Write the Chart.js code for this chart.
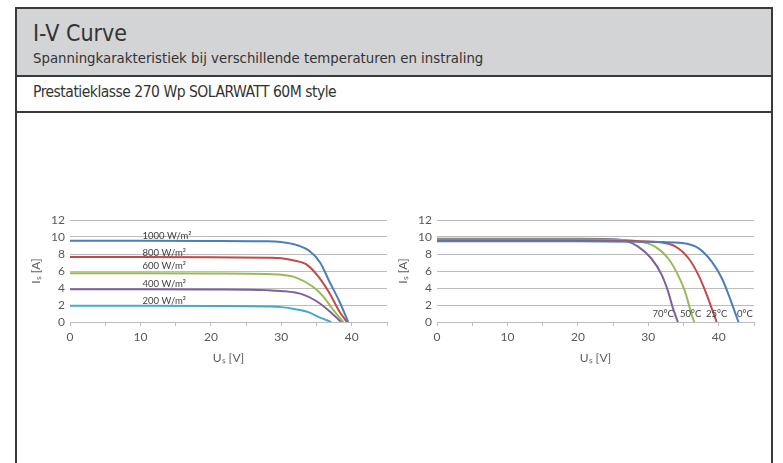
<!DOCTYPE html>
<html>
<head>
<meta charset="utf-8">
<script src="https://cdn.jsdelivr.net/npm/chart.js@4/dist/chart.umd.min.js"></script>
<style>
  body { margin: 0; width: 783px; height: 463px; background: #fff; overflow: hidden; position: relative; }
  .frame { position: absolute; left: 15px; top: 7px; width: 754px; height: 470px;
           border: 2px solid #3a3a3a; border-bottom: none; }
  .head { background: #d3d4d6; height: 66px; border-bottom: 2px solid #3a3a3a; position: relative; }
  .row2 { height: 34px; border-bottom: 2px solid #3a3a3a; position: relative; }
  .txt { position: absolute; left: 16px; color: #333; font-family: "DejaVu Sans Condensed", "Liberation Sans Narrow", sans-serif; white-space: nowrap; }
  .t1 { top: 11px; font-size: 23px; }
  .t2 { top: 40px; font-size: 14.8px; }
  .t3 { top: 6px; font-size: 15.5px; letter-spacing: -0.5px; }
  canvas { position: absolute; }
</style>
</head>
<body>
<div class="frame">
  <div class="head">
    <div class="txt t1">I-V Curve</div>
    <div class="txt t2">Spanningkarakteristiek bij verschillende temperaturen en instraling</div>
  </div>
  <div class="row2">
    <div class="txt t3">Prestatieklasse 270 Wp SOLARWATT 60M style</div>
  </div>
</div>
<div style="position:absolute;left:20px;top:205px;width:375px;height:162px"><canvas id="irr"></canvas></div>
<div style="position:absolute;left:387px;top:205px;width:375px;height:162px"><canvas id="temp"></canvas></div>
<script>
// irradiance curves (left)
const irrNames = ['1000 W/m²', '800 W/m²', '600 W/m²', '400 W/m²', '200 W/m²'];
const irrColors = ['#4a7ebb', '#be4b48', '#98b954', '#7d60a0', '#46aac5'];
const v1000 = [0, 10, 20, 28, 30, 32, 34, 35.5, 36.8, 38.2, 39.5];
const i1000 = [9.55, 9.55, 9.54, 9.5, 9.4, 9.1, 8.35, 7.0, 4.8, 2.5, 0];
const v800 = [0, 10, 20, 28, 30, 32, 33.5, 35.4, 36.8, 38.2, 39.3];
const i800 = [7.65, 7.65, 7.63, 7.55, 7.5, 7.2, 6.8, 5.2, 3.45, 1.3, 0];
const v600 = [0, 10, 20, 28, 30, 32, 34.4, 35.9, 37.3, 38.8];
const i600 = [5.75, 5.75, 5.72, 5.65, 5.55, 5.25, 4.2, 3.05, 1.5, 0];
const v400 = [0, 10, 20, 28, 30, 33, 34.9, 36.8, 38.5];
const i400 = [3.85, 3.85, 3.83, 3.75, 3.65, 3.25, 2.5, 1.3, 0];
const v200 = [0, 10, 20, 28, 30, 32, 34, 35.4, 37.1];
const i200 = [1.9, 1.9, 1.88, 1.82, 1.75, 1.5, 1.1, 0.55, 0];
const irrLabelV = [10.3, 10.3, 10.3, 10.3, 10.3];
const irrLabelI = [10.1, 8.1, 6.55, 4.45, 2.5];

// temperature curves (right)
const tempNames = ['0°C', '25°C', '50°C', '70°C'];
const tempColors = ['#4a7ebb', '#be4b48', '#98b954', '#7d60a0'];
const v0c = [0, 10, 20, 28, 32, 34.7, 37.1, 39, 40.4, 41.4, 42.1, 42.8];
const i0c = [9.5, 9.5, 9.5, 9.45, 9.4, 9.3, 8.7, 7.1, 5.2, 3.2, 1.6, 0];
const v25c = [0, 10, 20, 27, 31.4, 33.8, 35.7, 37.1, 38.3, 39, 39.7];
const i25c = [9.6, 9.6, 9.6, 9.55, 9.4, 8.9, 7.5, 5.55, 3.2, 1.6, 0];
const v50c = [0, 10, 20, 26, 28.5, 30.9, 32.8, 34.2, 35.2, 35.9, 36.5];
const i50c = [9.7, 9.7, 9.7, 9.65, 9.5, 8.9, 7.5, 5.55, 3.6, 1.6, 0];
const v70c = [0, 10, 20, 25, 26.6, 28.5, 30.4, 31.9, 32.8, 33.5, 34.2];
const i70c = [9.8, 9.8, 9.8, 9.75, 9.6, 8.9, 7.5, 5.55, 3.6, 1.6, 0];
const tempLabelV = [43.7, 39.7, 36.0, 32.1];
const tempLabelI = [0.95, 0.95, 0.95, 0.95];

const xTicks = [0, 10, 20, 30, 40];

const pts = (v, i) => v.map((x, k) => ({x: x, y: i[k]}));

const curveLabels = {
  id: 'curveLabels',
  afterDatasetsDraw(chart, args, opts) {
    const ctx = chart.ctx;
    ctx.save();
    ctx.font = '9.5px Lato, "Open Sans", sans-serif';
    ctx.fillStyle = '#404040';
    ctx.textAlign = opts.align;
    ctx.textBaseline = 'middle';
    opts.names.forEach((n, k) => {
      ctx.fillText(n, chart.scales.x.getPixelForValue(opts.xs[k]), chart.scales.y.getPixelForValue(opts.ys[k]));
    });
    ctx.restore();
  }
};

const makeChart = (id, series, names, colors, labelCfg) => {
  return new Chart(document.getElementById(id), {
    type: 'scatter',
    data: {
      datasets: series.map((s, k) => ({
        label: names[k],
        data: s,
        showLine: true,
        borderColor: colors[k],
        borderWidth: 2,
        pointRadius: 0,
        cubicInterpolationMode: 'monotone'
      }))
    },
    options: {
      animation: false,
      responsive: true,
      maintainAspectRatio: false,
      layout: {padding: {top: 15, right: 8, left: 0, bottom: 0}},
      plugins: {legend: {display: false}, tooltip: {enabled: false}, curveLabels: labelCfg},
      scales: {
        x: {
          type: 'linear', min: 0, max: 45,
          afterFit: s => { s.height = 45; },
          ticks: {stepSize: 5, padding: 4, color: '#595959', font: {family: 'Lato', size: 12},
                  autoSkip: false, maxRotation: 0,
                  callback: v => xTicks.includes(v) ? v : ''},
          grid: {drawOnChartArea: false, drawTicks: true, tickLength: 4, color: '#bcbcbc'},
          border: {color: '#bcbcbc'},
          title: {display: true, text: 'Uₛ [V]', color: '#595959', font: {family: 'Lato', size: 12},
                  padding: {top: 0, bottom: 2}}
        },
        y: {
          min: 0, max: 12,
          afterFit: s => { s.width = 50; },
          ticks: {stepSize: 2, padding: 5, autoSkip: false, color: '#595959', font: {family: 'Lato', size: 12}},
          grid: {drawTicks: false, color: '#bcbcbc'},
          border: {display: false},
          title: {display: true, text: 'Iₛ [A]', color: '#595959', font: {family: 'Lato', size: 12},
                  padding: {top: 9, bottom: 0}}
        }
      }
    },
    plugins: [curveLabels]
  });
};

makeChart('irr',
  [pts(v1000, i1000), pts(v800, i800), pts(v600, i600), pts(v400, i400), pts(v200, i200)],
  irrNames, irrColors,
  {names: irrNames, xs: irrLabelV, ys: irrLabelI, align: 'left'});

makeChart('temp',
  [pts(v0c, i0c), pts(v25c, i25c), pts(v50c, i50c), pts(v70c, i70c)],
  tempNames, tempColors,
  {names: tempNames, xs: tempLabelV, ys: tempLabelI, align: 'center'});
</script>
</body>
</html>
